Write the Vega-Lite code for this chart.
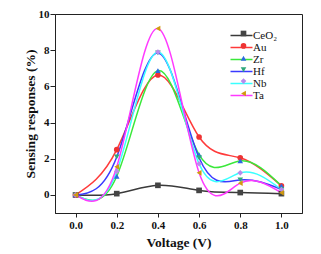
{
  "$schema": "https://vega.github.io/schema/vega-lite/v6.json",
  "width": 247,
  "height": 199,
  "autosize": {"type": "none"},
  "padding": {"left": 55, "top": 14, "right": 19, "bottom": 41},
  "background": "white",
  "config": {
    "view": {"stroke": "#222", "strokeWidth": 1},
    "font": "Liberation Serif",
    "axis": {"grid": false, "domainColor": "#222", "tickColor": "#222", "labelFont": "Liberation Serif", "labelFontWeight": "bold", "labelFontSize": 11, "labelColor": "#111", "titleFont": "Liberation Serif", "titleFontWeight": "bold", "titleFontSize": 13.5, "titleColor": "#111", "tickSize": 4}
  },
  "data": {"values": [
    {"series": "CeO₂", "v": 0.0, "r": 0.0},
    {"series": "CeO₂", "v": 0.2, "r": 0.07},
    {"series": "CeO₂", "v": 0.4, "r": 0.53},
    {"series": "CeO₂", "v": 0.6, "r": 0.25},
    {"series": "CeO₂", "v": 0.8, "r": 0.13},
    {"series": "CeO₂", "v": 1.0, "r": 0.07},
    {"series": "Au", "v": 0.0, "r": 0.0},
    {"series": "Au", "v": 0.2, "r": 2.5},
    {"series": "Au", "v": 0.4, "r": 6.63},
    {"series": "Au", "v": 0.6, "r": 3.2},
    {"series": "Au", "v": 0.8, "r": 2.05},
    {"series": "Au", "v": 1.0, "r": 0.5},
    {"series": "Zr", "v": 0.0, "r": 0.0},
    {"series": "Zr", "v": 0.2, "r": 1.03},
    {"series": "Zr", "v": 0.4, "r": 6.87},
    {"series": "Zr", "v": 0.6, "r": 2.22},
    {"series": "Zr", "v": 0.8, "r": 1.88},
    {"series": "Zr", "v": 1.0, "r": 0.5},
    {"series": "Hf", "v": 0.0, "r": 0.0},
    {"series": "Hf", "v": 0.2, "r": 2.1},
    {"series": "Hf", "v": 0.4, "r": 7.85},
    {"series": "Hf", "v": 0.6, "r": 2.05},
    {"series": "Hf", "v": 0.8, "r": 0.83},
    {"series": "Hf", "v": 1.0, "r": 0.3},
    {"series": "Nb", "v": 0.0, "r": 0.0},
    {"series": "Nb", "v": 0.2, "r": 1.3},
    {"series": "Nb", "v": 0.4, "r": 7.9},
    {"series": "Nb", "v": 0.6, "r": 1.72},
    {"series": "Nb", "v": 0.8, "r": 1.22},
    {"series": "Nb", "v": 1.0, "r": 0.3},
    {"series": "Ta", "v": 0.0, "r": 0.0},
    {"series": "Ta", "v": 0.2, "r": 1.55},
    {"series": "Ta", "v": 0.4, "r": 9.2},
    {"series": "Ta", "v": 0.6, "r": 1.22},
    {"series": "Ta", "v": 0.8, "r": 0.65},
    {"series": "Ta", "v": 1.0, "r": 0.12}
  ]},
  "encoding": {
    "x": {"field": "v", "type": "quantitative", "scale": {"domain": [-0.1, 1.1], "nice": false, "zero": false},
      "axis": {"values": [0, 0.2, 0.4, 0.6, 0.8, 1.0], "format": ".1f", "title": "Voltage (V)", "labelPadding": 2, "titlePadding": 5}},
    "y": {"field": "r", "type": "quantitative", "scale": {"domain": [-1, 10], "nice": false},
      "axis": {"values": [0, 2, 4, 6, 8, 10], "title": "Sensing responses (%)", "tickSize": 5, "labelPadding": 1, "titlePadding": 1}}
  },
  "layer": [
    {
      "mark": {"type": "line", "interpolate": "natural", "strokeWidth": 1.5},
      "encoding": {
        "color": {"field": "series", "type": "nominal",
          "scale": {"domain": ["Au", "CeO₂", "Hf", "Nb", "Ta", "Zr"], "range": ["#ff3a3a", "#3a3a3a", "#3a3aff", "#3affff", "#ff3aff", "#3ae83a"]},
          "legend": {"orient": "none", "legendX": 180, "legendY": 15, "title": null, "values": ["CeO₂", "Au", "Zr", "Hf", "Nb", "Ta"], "symbolType": "M-2,0H2", "symbolSize": 121, "symbolStrokeWidth": 1.5, "labelFont": "Liberation Serif", "labelFontSize": 11, "labelColor": "#111", "labelOffset": 5, "rowPadding": -0.6}}
      }
    },
    {
      "mark": {"type": "point", "filled": true, "size": 32, "opacity": 1},
      "encoding": {
        "shape": {"field": "series", "type": "nominal",
          "scale": {"domain": ["CeO₂", "Au", "Zr", "Hf", "Nb", "Ta"], "range": ["square", "circle", "triangle-up", "triangle-down", "diamond", "triangle-left"]},
          "legend": {"orient": "right", "offset": -78, "padding": 14, "title": null, "labelExpr": "''", "labelFontSize": 11, "symbolSize": 32, "rowPadding": -0.6}},
        "fill": {"field": "series", "type": "nominal",
          "scale": {"domain": ["CeO₂", "Au", "Zr", "Hf", "Nb", "Ta"], "range": ["#444444", "#ee3333", "#2a6ae0", "#2ea87a", "#b98aec", "#d19a10"]},
          "legend": {"orient": "right", "offset": -78, "padding": 14, "title": null, "labelExpr": "''", "labelFontSize": 11, "symbolSize": 32, "rowPadding": -0.6}}
      }
    }
  ]
}
